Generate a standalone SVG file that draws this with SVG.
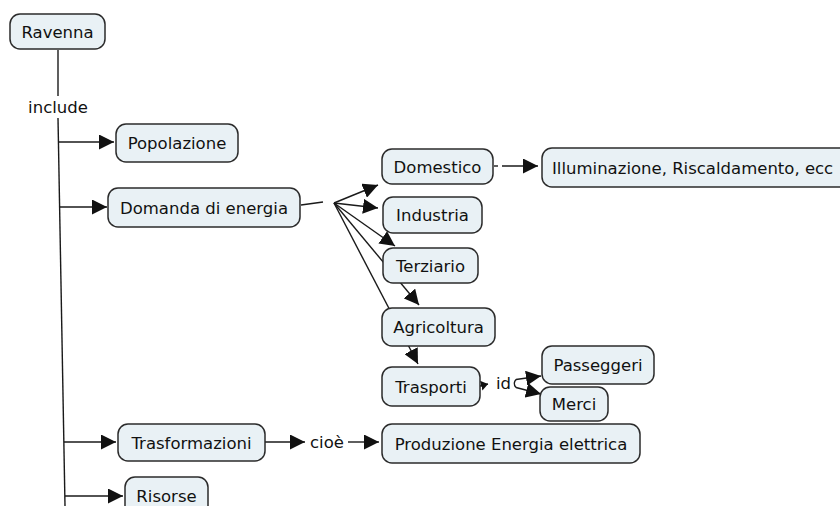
<svg xmlns="http://www.w3.org/2000/svg" width="840" height="506" viewBox="0 0 840 506">
<style>
.n rect{fill:#e9f1f5;stroke:#2b2b2b;stroke-width:1.5}
text{font-family:"DejaVu Sans",Verdana,sans-serif;font-size:16.5px;fill:#111}
.n text{text-anchor:middle}
.c line,.c path{stroke:#1a1a1a;stroke-width:1.4;fill:none}
.a{marker-end:url(#ah)}
.s{marker-end:url(#sh)}
</style>
<defs>
<marker id="ah" markerUnits="userSpaceOnUse" markerWidth="16" markerHeight="15" refX="15" refY="7.5" orient="auto"><path d="M0,0 L15,7.5 L0,15 z" fill="#111"/></marker>
<marker id="sh" markerUnits="userSpaceOnUse" markerWidth="8" markerHeight="10" refX="7" refY="5" orient="auto"><path d="M0,0 L7,5 L0,10 z" fill="#111"/></marker>
</defs>
<rect width="840" height="506" fill="#fff"/>
<g class="c" id="connectors">
<line x1="58" y1="50" x2="58" y2="96"/>
<line x1="58" y1="118" x2="65" y2="506"/>
<line class="a" x1="58.4" y1="142" x2="114" y2="142"/>
<line class="a" x1="59.6" y1="207" x2="107" y2="207"/>
<line class="a" x1="64" y1="442" x2="116" y2="442"/>
<line class="a" x1="65" y1="496" x2="123" y2="496"/>
<line x1="301" y1="205" x2="323" y2="202"/>
<line class="a" x1="334" y1="203" x2="378" y2="185"/>
<line class="a" x1="334" y1="203" x2="378" y2="208"/>
<line class="a" x1="334" y1="203" x2="395" y2="246"/>
<line class="a" x1="334" y1="203" x2="419" y2="305"/>
<line class="a" x1="334" y1="203" x2="418" y2="364"/>
<line x1="494" y1="166" x2="498" y2="166"/>
<line class="a" x1="502" y1="166" x2="538" y2="166"/>
<line class="s" x1="480" y1="386" x2="488" y2="384"/>
<line class="a" x1="516" y1="379.5" x2="541" y2="376"/>
<line class="a" x1="516" y1="387.5" x2="541" y2="394"/>
<path d="M516,379.5 Q512.5,383.5 516,387.5"/>
<line class="a" x1="265" y1="442" x2="305" y2="442"/>
<line class="a" x1="348" y1="442" x2="379" y2="442"/>
<text x="58" y="113" text-anchor="middle">include</text>
<text x="496" y="389">id</text>
<text x="310" y="448">cioè</text>
</g>
<g class="n" id="ravenna"><rect x="10" y="14" width="95" height="35" rx="10"/><text x="57.5" y="37.5">Ravenna</text></g>
<g class="n" id="popolazione"><rect x="116" y="124" width="122" height="38" rx="10"/><text x="177" y="149">Popolazione</text></g>
<g class="n" id="domanda"><rect x="108" y="188" width="192" height="39" rx="10"/><text x="204" y="213.5">Domanda di energia</text></g>
<g class="n" id="domestico"><rect x="382" y="149" width="111" height="35" rx="10"/><text x="437.5" y="172.5">Domestico</text></g>
<g class="n" id="illuminazione"><rect x="542" y="148" width="310" height="39" rx="10"/><text x="552" y="173.5" style="text-anchor:start">Illuminazione, Riscaldamento, ecc</text></g>
<g class="n" id="industria"><rect x="383" y="197" width="99" height="36" rx="10"/><text x="432.5" y="221">Industria</text></g>
<g class="n" id="terziario"><rect x="383" y="248" width="95" height="35" rx="10"/><text x="430.5" y="271.5">Terziario</text></g>
<g class="n" id="agricoltura"><rect x="382" y="308" width="113" height="38" rx="10"/><text x="438.5" y="333">Agricoltura</text></g>
<g class="n" id="trasporti"><rect x="382" y="367" width="98" height="39" rx="10"/><text x="431" y="392.5">Trasporti</text></g>
<g class="n" id="passeggeri"><rect x="542" y="346" width="112" height="38" rx="10"/><text x="598" y="371">Passeggeri</text></g>
<g class="n" id="merci"><rect x="540" y="387" width="68" height="34" rx="10"/><text x="574" y="410">Merci</text></g>
<g class="n" id="trasformazioni"><rect x="118" y="424" width="147" height="37" rx="10"/><text x="191.5" y="448.5">Trasformazioni</text></g>
<g class="n" id="produzione"><rect x="382" y="424" width="258" height="39" rx="10"/><text x="511" y="449.5">Produzione Energia elettrica</text></g>
<g class="n" id="risorse"><rect x="125" y="477" width="83" height="40" rx="10"/><text x="166.5" y="502">Risorse</text></g>
</svg>
